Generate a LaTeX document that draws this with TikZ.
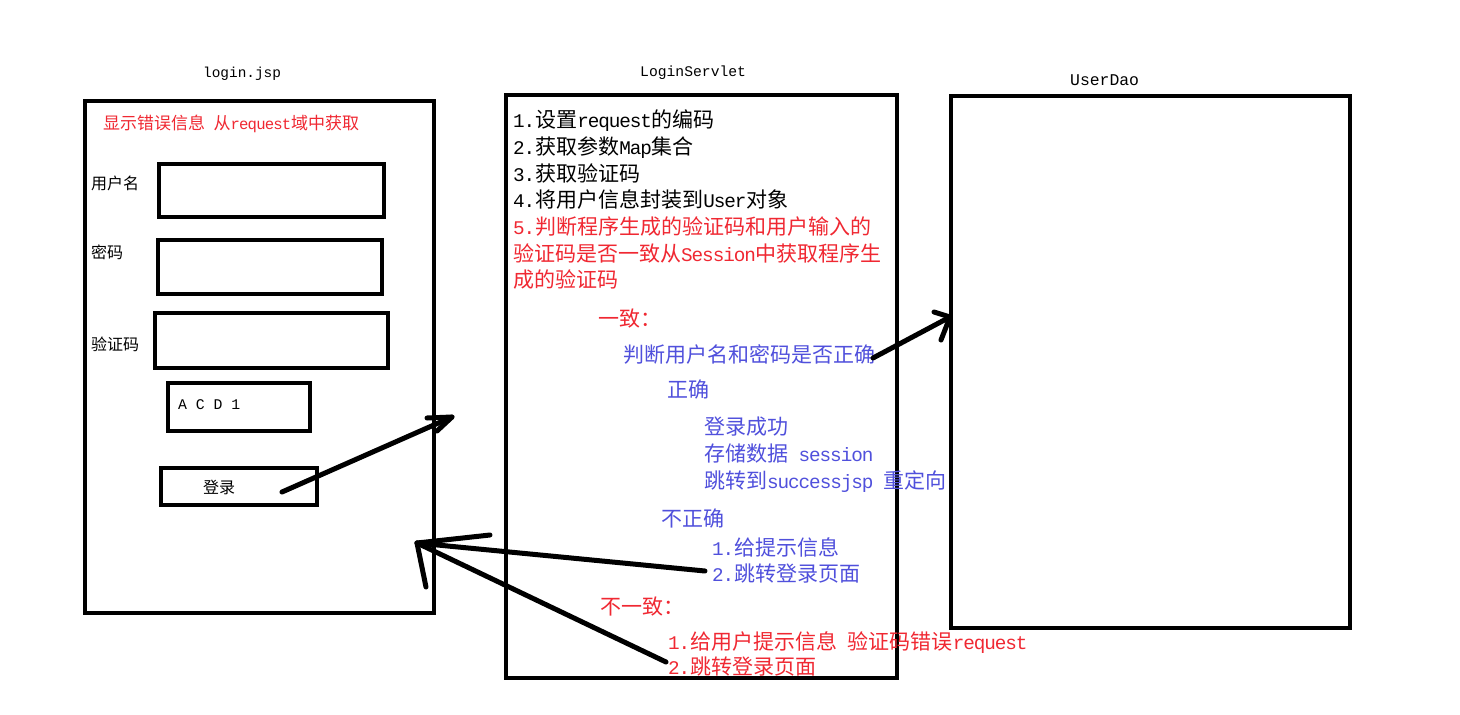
\documentclass[tikz,border=0pt]{standalone}
\usepackage{fontspec}
\setmainfont{Noto Sans CJK SC}
\newfontfamily\latmono{Liberation Mono}[Scale=0.92,LetterSpace=-5.6]
\newfontfamily\monolabel{Liberation Mono}
\newcommand\mylat[1]{{\latmono #1}}
\definecolor{myred}{RGB}{240,40,50}
\definecolor{myblue}{RGB}{80,80,220}
\begin{document}
\begin{tikzpicture}[x=1pt,y=-1pt,
  box/.style={draw, line width=4pt, inner sep=0pt},
  txt/.style={anchor=base west, inner sep=0pt},
  big/.style={txt, font=\fontsize{21}{21}\selectfont},
  small/.style={txt, font=\fontsize{16}{16}\selectfont},
  conn/.style={line width=5pt, line cap=round, line join=round}]
\useasboundingbox[fill=white] (0,0) rectangle (1460,715);

% titles
\node[txt, font=\monolabel\fontsize{14.4}{14.4}\selectfont] (tlogin) at (203,77) {login.jsp};
\node[txt, font=\monolabel\fontsize{14.7}{14.7}\selectfont] (tserv) at (640,76) {LoginServlet};
\node[txt, font=\monolabel\fontsize{16.4}{16.4}\selectfont] (tdao) at (1070,85.5) {UserDao};

% login.jsp
\node[box, minimum width=349pt, minimum height=512pt] (login) at (259.5,357) {};
\node[txt, text=myred, font=\fontsize{17}{17}\selectfont] (err) at (103,129.5) {显示错误信息\mylat{\ }从\mylat{request}域中获取};
\node[small] (lu) at (91,189) {用户名};
\node[box, minimum width=225pt, minimum height=53pt] (ubox) at (271.5,190.5) {};
\node[small] (lp) at (91,258) {密码};
\node[box, minimum width=224pt, minimum height=54pt] (pbox) at (270,267) {};
\node[small] (lc) at (91,350) {验证码};
\node[box, minimum width=233pt, minimum height=55pt] (cbox) at (271.5,340.5) {};
\node[box, minimum width=142pt, minimum height=48pt] (acd) at (239,407) {};
\node[txt, font=\monolabel\fontsize{14.8}{14.8}\selectfont] (acdt) at (178,409) {A C D 1};
\node[box, minimum width=156pt, minimum height=37pt] (btn) at (239,486.5) {};
\node[small] (btnt) at (203,493) {登录};

% LoginServlet
\node[box, minimum width=391pt, minimum height=583pt] (serv) at (701.5,386.5) {};
\node[big] (s1) at (513,127) {\mylat{1.}设置\mylat{request}的编码};
\node[big] (s2) at (513,154) {\mylat{2.}获取参数\mylat{Map}集合};
\node[big] (s3) at (513,181) {\mylat{3.}获取验证码};
\node[big] (s4) at (513,207) {\mylat{4.}将用户信息封装到\mylat{User}对象};
\node[big, text=myred] (s5) at (513,234) {\mylat{5.}判断程序生成的验证码和用户输入的};
\node[big, text=myred] (s6) at (513,261) {验证码是否一致从\mylat{Session}中获取程序生};
\node[big, text=myred] (s7) at (513,287) {成的验证码};
\node[big, text=myred] (ok) at (598,326) {一致：};
\node[big, text=myblue] (chk) at (623,362) {判断用户名和密码是否正确};
\node[big, text=myblue] (right) at (667,397) {正确};
\node[big, text=myblue] (r1) at (704,434) {登录成功};
\node[big, text=myblue] (r2) at (704,461) {存储数据\mylat{\ session}};
\node[big, text=myblue] (r3) at (704,488) {跳转到\mylat{successjsp\ }重定向};
\node[big, text=myblue] (wrong) at (661,526) {不正确};
\node[big, text=myblue] (w1) at (712,555) {\mylat{1.}给提示信息};
\node[big, text=myblue] (w2) at (712,581) {\mylat{2.}跳转登录页面};
\node[big, text=myred] (nok) at (600,614) {不一致：};
\node[big, text=myred] (n1) at (668,649) {\mylat{1.}给用户提示信息\mylat{\ }验证码错误\mylat{request}};
\node[big, text=myred] (n2) at (668,674) {\mylat{2.}跳转登录页面};

% UserDao
\node[box, minimum width=399pt, minimum height=532pt] (dao) at (1150.5,362) {};

% arrow login -> servlet
\coordinate (a1s) at (282,492);
\coordinate (a1t) at (452,417);
\coordinate (a1b1) at (427,418);
\coordinate (a1b2) at (437,431);
\draw[conn] (a1s) -- (a1t);
\draw[conn] (a1b1) -- (a1t) -- (a1b2);

% arrow servlet -> dao
\coordinate (a2s) at (873,358);
\coordinate (a2t) at (950,317);
\coordinate (a2b1) at (934,312);
\coordinate (a2b2) at (941,340);
\draw[conn] (a2s) -- (a2t);
\draw[conn] (a2b1) -- (a2t) -- (a2b2);

% arrows back to login
\coordinate (a3t) at (417,543);
\coordinate (a3s) at (705,571);
\coordinate (a4s) at (666,662);
\coordinate (a3b1) at (490,535);
\coordinate (a3b2) at (426,587);
\draw[conn] (a3s) -- (a3t);
\draw[conn] (a4s) -- (a3t);
\draw[conn] (a3b1) -- (a3t) -- (a3b2);
\end{tikzpicture}
\end{document}
